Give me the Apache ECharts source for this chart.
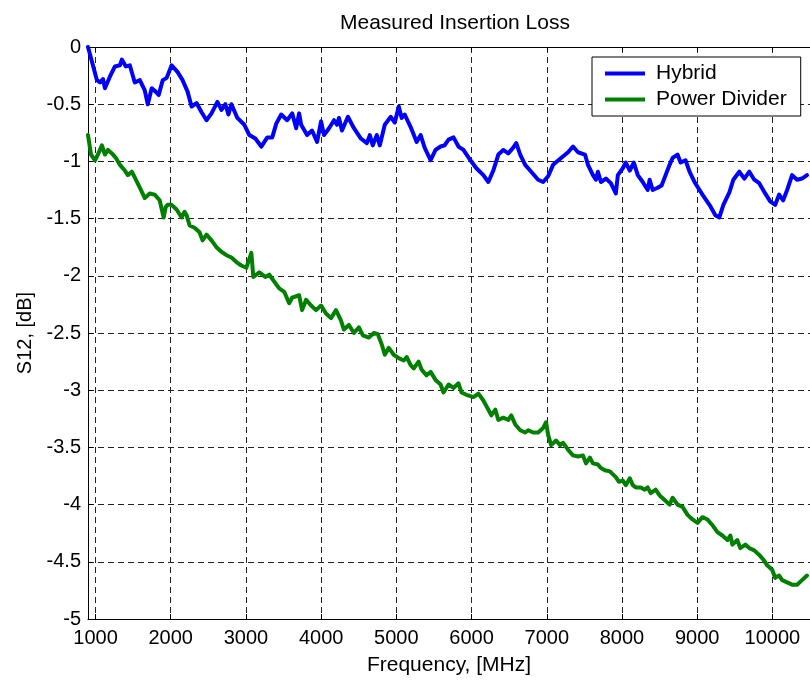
<!DOCTYPE html>
<html>
<head>
<meta charset="utf-8">
<script src="https://cdn.jsdelivr.net/npm/echarts@6/dist/echarts.min.js"></script>
<style>
html,body{margin:0;padding:0;background:#fff;}
#chart{width:810px;height:681px;}
</style>
</head>
<body>
<div id="chart"></div>
<script>
// ---- Data (frequency in MHz, S12 in dB) ----
const hybridFreq = [900,1019,1060,1099,1125,1191,1258,1324,1350,1403,1456,1522,1589,1655,1695,1747,1800,1840,1893,1946,2012,2092,2158,2224,2277,2343,2410,2476,2542,2621,2674,2727,2767,2807,2886,2979,3045,3125,3204,3284,3350,3403,3469,3548,3615,3668,3707,3734,3813,3879,3946,3999,4038,4105,4171,4210,4237,4277,4356,4436,4528,4608,4647,4687,4740,4780,4846,4926,4979,5032,5071,5111,5190,5270,5323,5376,5455,5521,5588,5641,5694,5760,5826,5892,5985,6064,6157,6223,6289,6356,6422,6488,6554,6594,6647,6713,6793,6885,6952,7018,7084,7190,7283,7349,7415,7508,7548,7614,7653,7680,7720,7786,7852,7918,7945,8011,8051,8104,8157,8210,8276,8342,8368,8408,8474,8527,8580,8633,8673,8739,8779,8845,8898,8964,9070,9163,9242,9295,9348,9428,9481,9560,9627,9693,9759,9825,9904,9971,10037,10090,10143,10196,10262,10328,10394,10460];
const hybridLoss = [0,-0.29,-0.31,-0.28,-0.36,-0.26,-0.17,-0.16,-0.11,-0.17,-0.16,-0.31,-0.29,-0.38,-0.50,-0.36,-0.39,-0.42,-0.29,-0.27,-0.16,-0.22,-0.29,-0.39,-0.52,-0.49,-0.57,-0.64,-0.58,-0.48,-0.55,-0.50,-0.59,-0.50,-0.62,-0.68,-0.77,-0.80,-0.87,-0.79,-0.79,-0.67,-0.59,-0.64,-0.58,-0.71,-0.58,-0.68,-0.77,-0.73,-0.83,-0.65,-0.77,-0.71,-0.64,-0.68,-0.62,-0.73,-0.61,-0.71,-0.80,-0.84,-0.77,-0.86,-0.77,-0.86,-0.68,-0.61,-0.66,-0.52,-0.62,-0.59,-0.70,-0.83,-0.77,-0.88,-0.99,-0.90,-0.87,-0.86,-0.81,-0.79,-0.87,-0.90,-0.99,-1.06,-1.12,-1.18,-1.08,-0.94,-0.90,-0.93,-0.88,-0.84,-0.94,-1.03,-1.09,-1.16,-1.18,-1.13,-1.03,-0.97,-0.92,-0.87,-0.92,-0.94,-1.03,-1.12,-1.16,-1.09,-1.18,-1.15,-1.19,-1.28,-1.12,-1.06,-1.01,-1.08,-1.01,-1.12,-1.18,-1.25,-1.16,-1.25,-1.23,-1.21,-1.12,-1.03,-0.97,-0.94,-1.01,-0.99,-1.09,-1.18,-1.29,-1.38,-1.47,-1.49,-1.38,-1.27,-1.16,-1.09,-1.15,-1.09,-1.16,-1.19,-1.28,-1.35,-1.38,-1.29,-1.34,-1.25,-1.12,-1.16,-1.15,-1.12];

const dividerFreq = [900,940,993,1032,1085,1125,1165,1218,1271,1324,1390,1430,1483,1536,1589,1655,1721,1787,1853,1906,1933,1959,2012,2078,2145,2184,2211,2251,2317,2383,2423,2476,2542,2608,2674,2741,2807,2873,2939,3005,3072,3098,3178,3257,3310,3376,3442,3509,3575,3615,3707,3747,3800,3866,3932,3999,4065,4131,4197,4263,4303,4369,4436,4502,4555,4634,4701,4753,4806,4846,4899,4965,5032,5098,5138,5190,5230,5296,5336,5402,5455,5521,5588,5627,5694,5760,5826,5866,5932,6025,6091,6157,6223,6263,6316,6356,6422,6488,6528,6581,6647,6713,6753,6819,6885,6952,6991,7018,7058,7124,7177,7217,7283,7349,7415,7481,7521,7574,7614,7680,7720,7773,7839,7918,7958,8011,8051,8104,8144,8184,8250,8302,8342,8382,8448,8501,8567,8633,8673,8739,8805,8872,8938,9004,9070,9137,9203,9269,9335,9402,9441,9468,9534,9573,9640,9693,9759,9825,9878,9931,9997,10037,10090,10130,10196,10262,10328,10394,10460];
const dividerLoss = [-0.77,-0.94,-0.99,-0.94,-0.86,-0.94,-0.90,-0.93,-0.97,-1.03,-1.08,-1.12,-1.09,-1.16,-1.23,-1.32,-1.28,-1.29,-1.34,-1.49,-1.40,-1.38,-1.38,-1.42,-1.49,-1.44,-1.47,-1.56,-1.58,-1.62,-1.69,-1.64,-1.69,-1.75,-1.79,-1.82,-1.84,-1.88,-1.91,-1.93,-1.80,-2.01,-1.97,-2.01,-1.99,-2.05,-2.11,-2.14,-2.24,-2.19,-2.17,-2.30,-2.21,-2.26,-2.30,-2.26,-2.33,-2.37,-2.30,-2.39,-2.47,-2.43,-2.50,-2.45,-2.52,-2.54,-2.50,-2.51,-2.60,-2.69,-2.63,-2.69,-2.72,-2.74,-2.71,-2.78,-2.81,-2.75,-2.82,-2.87,-2.84,-2.91,-2.95,-3.02,-2.95,-2.98,-2.94,-3.02,-3.04,-3.06,-3.03,-3.09,-3.17,-3.22,-3.17,-3.26,-3.24,-3.26,-3.22,-3.30,-3.35,-3.37,-3.35,-3.37,-3.37,-3.33,-3.28,-3.39,-3.48,-3.44,-3.48,-3.46,-3.52,-3.57,-3.58,-3.57,-3.64,-3.59,-3.64,-3.65,-3.68,-3.70,-3.71,-3.76,-3.80,-3.79,-3.83,-3.77,-3.83,-3.85,-3.85,-3.87,-3.85,-3.90,-3.87,-3.92,-3.96,-4.00,-3.94,-4.00,-4.02,-4.09,-4.13,-4.16,-4.11,-4.13,-4.18,-4.24,-4.27,-4.31,-4.27,-4.35,-4.31,-4.38,-4.35,-4.38,-4.40,-4.44,-4.48,-4.53,-4.57,-4.64,-4.62,-4.66,-4.68,-4.70,-4.70,-4.66,-4.62];

const xTickValues = [1000,2000,3000,4000,5000,6000,7000,8000,9000,10000];
const seriesNames = ['Hybrid','Power Divider'];
const titleText = 'Measured Insertion Loss';
const xAxisName = 'Frequency, [MHz]';
const yAxisName = 'S12, [dB]';

// ---- Chart ----
const FONT = '"Liberation Sans", Arial, Helvetica, sans-serif';
const chart = echarts.init(document.getElementById('chart'), null, {renderer: 'canvas'});
const pairs = (xs, ys) => xs.map((x, i) => [x, ys[i]]);

const option = {
  animation: false,
  backgroundColor: '#fff',
  textStyle: {fontFamily: FONT, color: '#000'},
  title: {
    text: titleText, left: 450, top: 8, textAlign: 'center',
    textStyle: {fontFamily: FONT, fontSize: 21, fontWeight: 'normal', color: '#000'}
  },
  legend: {
    data: seriesNames, orient: 'vertical', left: 592, top: 57,
    padding: [6, 14, 6, 13], itemGap: 5, itemWidth: 40, itemHeight: 4, icon: 'rect',
    borderColor: '#000', borderWidth: 1, backgroundColor: '#fff',
    textStyle: {fontFamily: FONT, fontSize: 21, color: '#000', padding: [0, 0, 0, 6]}
  },
  grid: {left: 88, top: 47, width: 725, height: 572, containLabel: false},
  xAxis: [{
    type: 'value', min: 900, max: 10500, position: 'bottom',
    name: xAxisName, nameLocation: 'middle', nameGap: 36,
    nameTextStyle: {fontFamily: FONT, fontSize: 21, color: '#000'},
    axisLine: {show: true, onZero: false, lineStyle: {color: '#000', width: 1}},
    axisTick: {show: true, inside: true, length: 5, customValues: xTickValues, lineStyle: {color: '#000'}},
    axisLabel: {customValues: xTickValues, fontFamily: FONT, fontSize: 20, color: '#000', margin: 9,
      formatter: v => String(v)},
    splitLine: {show: true, lineStyle: {color: '#222', width: 1, type: [6, 4]}}
  }, {
    type: 'value', min: 900, max: 10500, position: 'top',
    axisLine: {show: true, onZero: false, lineStyle: {color: '#000', width: 1}},
    axisTick: {show: true, inside: true, length: 5, customValues: xTickValues, lineStyle: {color: '#000'}},
    axisLabel: {show: false}, splitLine: {show: false}
  }],
  yAxis: [{
    type: 'value', min: -5, max: 0, interval: 0.5,
    name: yAxisName, nameLocation: 'middle', nameGap: 50, nameRotate: 90,
    nameTextStyle: {fontFamily: FONT, fontSize: 20, color: '#000'},
    axisLine: {show: true, onZero: false, lineStyle: {color: '#000', width: 1}},
    axisTick: {show: true, inside: true, length: 5, lineStyle: {color: '#000'}},
    axisLabel: {fontFamily: FONT, fontSize: 20, color: '#000', margin: 7},
    splitLine: {show: true, lineStyle: {color: '#222', width: 1, type: [6, 4]}}
  }],
  series: [{
    name: seriesNames[0], type: 'line', xAxisIndex: 0, yAxisIndex: 0,
    data: pairs(hybridFreq, hybridLoss), showSymbol: false, symbol: 'none',
    lineStyle: {color: '#0000ff', width: 4, cap: 'round', join: 'round'}, itemStyle: {color: '#0000ff'}, z: 3
  }, {
    name: seriesNames[1], type: 'line', xAxisIndex: 0, yAxisIndex: 0,
    data: pairs(dividerFreq, dividerLoss), showSymbol: false, symbol: 'none',
    lineStyle: {color: '#008000', width: 4, cap: 'round', join: 'round'}, itemStyle: {color: '#008000'}, z: 3
  }]
};
chart.setOption(option);
</script>
</body>
</html>
